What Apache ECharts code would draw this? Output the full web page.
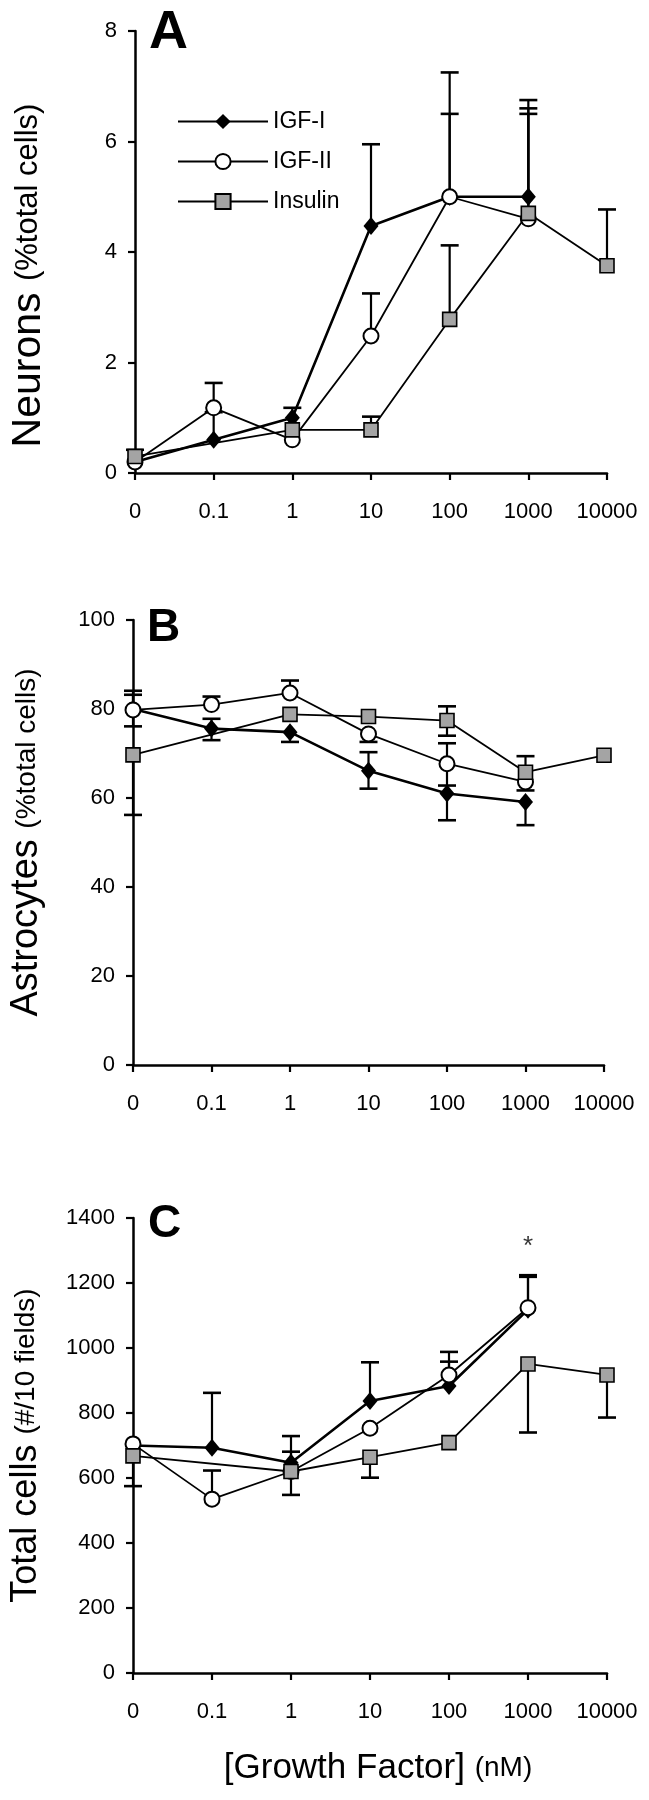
<!DOCTYPE html>
<html><head><meta charset="utf-8">
<script src="https://cdn.jsdelivr.net/npm/echarts@6/dist/echarts.min.js"></script>
<style>html,body{margin:0;padding:0;background:#fff}#c{width:649px;height:1800px}</style>
</head><body><div id="c"></div>
<script>
const FF = 'Liberation Sans, Arial, Helvetica, sans-serif';
const categories = ['0', '0.1', '1', '10', '100', '1000', '10000'];
const seriesNames = ['IGF-I', 'IGF-II', 'Insulin'];

// Panel A: Neurons (%total cells)
const neuronsIGF1 = [0.2, 0.6, 1.0, 4.47, 5.0, 5.0, null];
const neuronsIGF1Hi = [null, 1.1, 1.18, 5.95, 7.25, 6.75, null];
const neuronsIGF2 = [0.2, 1.18, 0.6, 2.48, 5.0, 4.6, null];
const neuronsIGF2Hi = [null, 1.63, null, 3.25, 6.5, 6.5, null];
const neuronsIns = [0.3, null, 0.78, 0.78, 2.78, 4.7, 3.75];
const neuronsInsHi = [0.42, null, null, 1.02, 4.12, 6.6, 4.77];

// Panel B: Astrocytes (%total cells)
const astroIGF1 = [80, 75.6, 74.8, 66.1, 61.0, 59.1, null];
const astroIGF1Hi = [83.2, 77.8, null, 70.3, null, null, null];
const astroIGF1Lo = [76.1, 73.0, 72.6, 62.1, 55.0, 53.9, null];
const astroIGF2 = [79.8, 81.0, 83.6, 74.4, 67.7, 63.6, null];
const astroIGF2Hi = [84.1, 82.8, 86.4, null, 72.3, null, null];
const astroIGF2Lo = [null, null, null, 72.6, 62.8, 61.7, null];
const astroIns = [69.7, null, 78.8, 78.3, 77.4, 65.8, 69.6];
const astroInsHi = [null, null, null, null, 80.6, 69.4, null];
const astroInsLo = [56.2, null, null, null, 74.0, null, null];

// Panel C: Total cells (#/10 fields)
const totalIGF1 = [700, 693, 647, 837, 883, 1118, null];
const totalIGF1Hi = [null, 862, 729, 956, 988, 1219, null];
const totalIGF2 = [705, 535, 620, 753, 917, 1124, null];
const totalIGF2Hi = [null, 623, 681, null, 958, 1224, null];
const totalIns = [668, null, 620, 664, 709, 951, 917];
const totalInsLo = [575, null, 548, 601, null, 740, 786];

const starPoint = ['1000', 1310];

const styles = {
  'IGF-I': {symbol: 'diamond', symbolSize: [15, 18], itemStyle: {color: '#000'}, lineStyle: {color: '#000', width: 2.6}},
  'IGF-II': {symbol: 'circle', symbolSize: 15, itemStyle: {color: '#fff', borderColor: '#000', borderWidth: 2}, lineStyle: {color: '#000', width: 1.8}},
  'Insulin': {symbol: 'rect', symbolSize: 14, itemStyle: {color: '#a4a4a4', borderColor: '#000', borderWidth: 1.6}, lineStyle: {color: '#000', width: 1.8}}
};

function lineSeries(name, data, idx) {
  const s = styles[name];
  return {
    name, type: 'line', xAxisIndex: idx, yAxisIndex: idx, data,
    connectNulls: true, z: 3, silent: true, animation: false,
    symbol: s.symbol, symbolSize: s.symbolSize, showAllSymbol: true,
    itemStyle: s.itemStyle, lineStyle: s.lineStyle
  };
}

function errSeries(idx, means, caps) {
  const data = [];
  caps.forEach((c, i) => { if (c != null && means[i] != null) data.push([i, means[i], c]); });
  return {
    type: 'custom', xAxisIndex: idx, yAxisIndex: idx, z: 1, silent: true, animation: false,
    data, encode: {x: 0, y: [1, 2]},
    renderItem: (params, api) => {
      const x = api.value(0), m = api.value(1), c = api.value(2);
      const p0 = api.coord([x, m]);
      const p1 = api.coord([x, c]);
      const hw = 9;
      return {type: 'group', children: [
        {type: 'line', shape: {x1: p0[0], y1: p0[1], x2: p1[0], y2: p1[1]}, style: {stroke: '#000', lineWidth: 2.2}},
        {type: 'line', shape: {x1: p1[0] - hw, y1: p1[1], x2: p1[0] + hw, y2: p1[1]}, style: {stroke: '#000', lineWidth: 2.6}}
      ]};
    }
  };
}

const axisLine = {lineStyle: {color: '#000', width: 2.5}};
const axisTick = {show: true, length: 7, inside: false, lineStyle: {color: '#000', width: 2.2}};
const tickLabel = {color: '#000', fontSize: 22, fontFamily: FF};

function xAxis(idx, extra) {
  return Object.assign({
    type: 'category', gridIndex: idx, data: categories, boundaryGap: false,
    axisLine, axisTick: Object.assign({alignWithLabel: true, interval: 0}, axisTick),
    axisLabel: Object.assign({margin: 28, interval: 0}, tickLabel),
    splitLine: {show: false}
  }, extra || {});
}

function yAxis(idx, max, interval, name, gap, pad, big, small) {
  return {
    type: 'value', gridIndex: idx, min: 0, max, interval,
    axisLine: Object.assign({show: true}, axisLine), axisTick,
    axisLabel: Object.assign({margin: 18, formatter: v => String(v)}, tickLabel),
    splitLine: {show: false},
    name, nameLocation: 'middle', nameGap: gap,
    nameTextStyle: {
      color: '#000', fontFamily: FF, padding: pad,
      rich: {
        a: {fontSize: big, fontFamily: FF, color: '#000'},
        b: {fontSize: small, fontFamily: FF, color: '#000'}
      }
    }
  };
}

const chart = echarts.init(document.getElementById('c'), null, {renderer: 'canvas'});
chart.setOption({
  animation: false,
  backgroundColor: '#fff',
  title: [
    {text: 'A', left: 149, top: 6, padding: 0, textStyle: {fontSize: 54, fontWeight: 'bold', fontFamily: FF, color: '#000'}},
    {text: 'B', left: 147, top: 605, padding: 0, textStyle: {fontSize: 46, fontWeight: 'bold', fontFamily: FF, color: '#000'}},
    {text: 'C', left: 148, top: 1201, padding: 0, textStyle: {fontSize: 46, fontWeight: 'bold', fontFamily: FF, color: '#000'}}
  ],
  legend: {
    data: seriesNames, orient: 'vertical', left: 177, top: 110, padding: 0,
    itemWidth: 90, itemHeight: 19, itemGap: 17,
    textStyle: {fontSize: 23, fontFamily: FF, color: '#000'},
    selectedMode: false
  },
  grid: [
    {left: 134, top: 31, width: 473, height: 442},
    {left: 133, top: 620, width: 471, height: 445},
    {left: 133, top: 1218, width: 474, height: 455}
  ],
  xAxis: [
    xAxis(0), xAxis(1),
    xAxis(2, {name: '{a|[Growth Factor] }{b|(nM)}', nameLocation: 'middle', nameGap: 78,
      nameTextStyle: {padding: [0, 0, 0, 16], rich: {
        a: {fontSize: 35, fontFamily: FF, color: '#000'},
        b: {fontSize: 28, fontFamily: FF, color: '#000'}}}})
  ],
  yAxis: [
    yAxis(0, 8, 2, '{a|Neurons }{b|(%total cells)}', 86, [0, 47, 0, 0], 41, 31),
    yAxis(1, 100, 20, '{a|Astrocytes }{b|(%total cells)}', 87, [0, 0, 0, 0], 38, 28),
    yAxis(2, 1400, 200, '{a|Total cells }{b|(#/10 fields)}', 89, [0, 0, 0, 0], 36, 28)
  ],
  series: [
    errSeries(0, neuronsIGF1, neuronsIGF1Hi),
    errSeries(0, neuronsIGF2, neuronsIGF2Hi),
    errSeries(0, neuronsIns, neuronsInsHi),
    lineSeries('IGF-I', neuronsIGF1, 0),
    lineSeries('IGF-II', neuronsIGF2, 0),
    lineSeries('Insulin', neuronsIns, 0),

    errSeries(1, astroIGF1, astroIGF1Hi),
    errSeries(1, astroIGF1, astroIGF1Lo),
    errSeries(1, astroIGF2, astroIGF2Hi),
    errSeries(1, astroIGF2, astroIGF2Lo),
    errSeries(1, astroIns, astroInsHi),
    errSeries(1, astroIns, astroInsLo),
    lineSeries('IGF-I', astroIGF1, 1),
    lineSeries('IGF-II', astroIGF2, 1),
    lineSeries('Insulin', astroIns, 1),

    errSeries(2, totalIGF1, totalIGF1Hi),
    errSeries(2, totalIGF2, totalIGF2Hi),
    errSeries(2, totalIns, totalInsLo),
    lineSeries('IGF-I', totalIGF1, 2),
    lineSeries('IGF-II', totalIGF2, 2),
    lineSeries('Insulin', totalIns, 2),
    {
      type: 'scatter', xAxisIndex: 2, yAxisIndex: 2, data: [starPoint], symbolSize: 1,
      itemStyle: {color: 'rgba(0,0,0,0)'}, silent: true, z: 4,
      label: {show: true, position: 'inside', formatter: '*', fontSize: 26, fontFamily: FF, color: '#000'}
    }
  ]
});
</script>
</body></html>
